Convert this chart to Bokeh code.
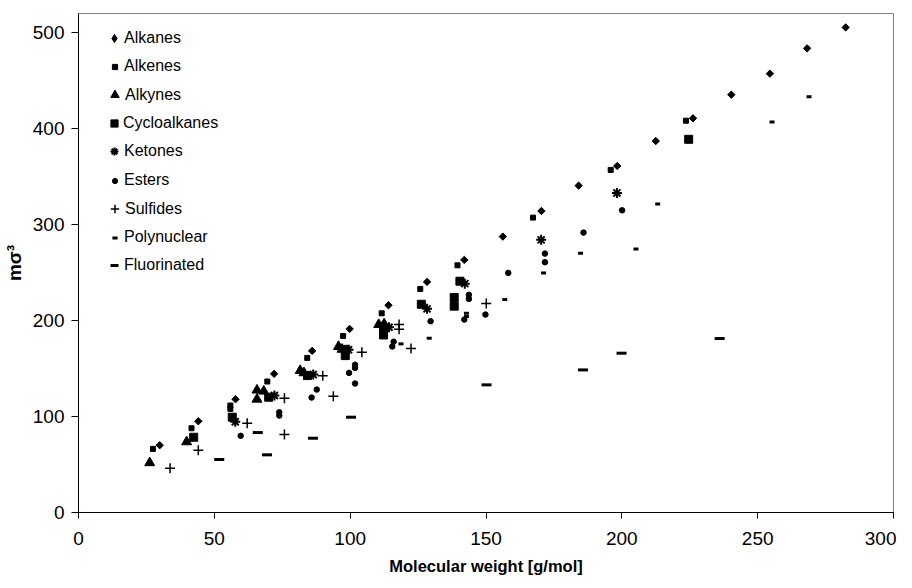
import math
from bokeh.plotting import figure
from bokeh.models import Legend, LegendItem, Range1d, FixedTicker
from bokeh.embed import file_html
from bokeh.resources import INLINE

# ---------------- data ----------------
alkanes_x = [29.9, 44.1, 57.8, 72.0, 86.0, 99.8, 114.1, 128.3, 142.0, 156.2, 170.4, 184.1,
             198.3, 212.5, 226.2, 240.3, 254.5, 268.2, 282.4]
alkanes_y = [70.1, 95.1, 118.0, 144.5, 168.4, 191.3, 216.0, 240.3, 263.2, 287.5, 314.2, 340.6,
             361.1, 387.1, 410.8, 435.4, 457.3, 483.7, 505.5]

alkenes_x = [27.4, 41.6, 55.9, 55.9, 69.5, 84.2, 97.4, 111.6, 125.8, 139.5, 167.3, 195.9, 223.6]
alkenes_y = [66.3, 87.8, 111.5, 108.0, 136.5, 161.1, 184.0, 207.6, 233.0, 257.6, 307.3, 357.0, 408.3]

alkynes_x = [26.2, 39.8, 65.7, 68.2, 65.7, 81.6, 83.0, 95.7, 97.0, 110.5, 112.5]
alkynes_y = [51.8, 73.6, 127.5, 126.4, 118.0, 147.9, 145.5, 172.9, 170.0, 195.8, 196.5]

cyclo_x = [42.4, 56.6, 70.0, 84.3, 98.2, 98.2, 112.3, 112.3, 126.2, 140.4, 138.3, 138.3, 224.6]
cyclo_y = [78.4, 99.3, 120.1, 142.7, 170.0, 163.5, 192.0, 185.0, 217.0, 241.0, 224.0, 215.0, 388.9]

ketones_x = [57.7, 72.1, 86.4, 99.4, 114.3, 128.3, 142.2, 170.3, 198.2]
ketones_y = [94.5, 121.9, 143.7, 169.5, 193.0, 212.2, 238.5, 284.1, 333.0]

esters_x = [59.7, 73.9, 73.9, 87.7, 85.8, 101.8, 101.8, 99.6, 101.8, 116.0, 115.5, 129.6,
            143.7, 143.7, 142.0, 149.8, 158.2, 171.7, 171.7, 185.9, 200.1]
esters_y = [79.9, 104.5, 101.0, 128.1, 119.8, 154.0, 150.7, 145.5, 134.4, 178.0, 173.0, 199.3,
            226.8, 222.6, 201.0, 206.3, 249.7, 269.8, 260.8, 291.7, 314.9]

sulfides_x = [33.7, 44.1, 62.1, 75.8, 75.8, 89.9, 93.8, 104.3, 118.0, 118.0, 122.4, 150.1]
sulfides_y = [46.2, 64.9, 93.0, 119.1, 81.3, 142.4, 121.2, 167.0, 196.0, 191.0, 170.8, 217.7]

poly_x = [118.7, 129.1, 142.8, 142.8, 156.9, 171.2, 184.8, 205.2, 213.2, 255.3, 268.9]
poly_y = [175.7, 181.6, 207.6, 204.2, 221.9, 249.6, 270.1, 274.7, 321.6, 407.0, 433.3]

fluor_x = [51.8, 66.0, 69.4, 86.3, 100.3, 150.2, 185.7, 199.9, 236.0]
fluor_y = [55.2, 83.3, 60.1, 77.4, 99.3, 133.0, 148.6, 166.0, 181.3]

series_names = ["Alkanes", "Alkenes", "Alkynes", "Cycloalkanes", "Ketones", "Esters",
                "Sulfides", "Polynuclear", "Fluorinated"]
x_ticks = [0, 50, 100, 150, 200, 250, 300]
y_ticks = [0, 100, 200, 300, 400, 500]

FONT = "Liberation Sans"
FRAME_W, FRAME_H = 817, 499

p = figure(width=896, height=580, output_backend="svg", toolbar_location=None,
           x_range=Range1d(0, 300), y_range=Range1d(0, 520),
           min_border_left=76, min_border_right=3, min_border_top=13, min_border_bottom=68)
p.background_fill_color = "white"
p.border_fill_color = "white"
p.outline_line_color = "#808080"
p.outline_line_width = 1
p.xgrid.visible = False
p.ygrid.visible = False

K = "black"
r_alk = p.scatter(alkanes_x, alkanes_y, marker="square", size=5.2, angle=math.pi / 4,
                  fill_color=K, line_color=K)
r_ene = p.scatter(alkenes_x, alkenes_y, marker="square", size=5, fill_color=K, line_color=K)
r_yne = p.scatter(alkynes_x, alkynes_y, marker="triangle", size=10, fill_color=K, line_color=K)
r_cyc = p.scatter(cyclo_x, cyclo_y, marker="square", size=8, fill_color=K, line_color=K)
r_ket = p.scatter(ketones_x, ketones_y, marker="asterisk", size=10, line_color=K, line_width=2)
r_est = p.scatter(esters_x, esters_y, marker="circle", size=5.5, fill_color=K, line_color=K)
r_sul = p.scatter(sulfides_x, sulfides_y, marker="cross", size=10, line_color=K, line_width=1.5)
r_pol = p.scatter(poly_x, poly_y, marker="dash", size=5, line_color=K, line_width=3)
r_flu = p.scatter(fluor_x, fluor_y, marker="dash", size=10, line_color=K, line_width=3)
# hidden twin of the alkanes series, used only for its legend key
# (legend keys ignore marker rotation, so the key uses the diamond marker)
r_alk_key = p.scatter(alkanes_x, alkanes_y, marker="diamond", size=8, fill_color=K,
                      line_color=K, visible=False)

legend_renderers = [r_alk_key, r_ene, r_yne, r_cyc, r_ket, r_est, r_sul, r_pol, r_flu]
# legend glyph box sizes (marker drawn at 0.4 x box)
key_box = [20, 13, 21, 18, 20, 13, 21, 13, 20]

# legend layout (screen px relative to plot frame)
first_center_from_top = 24.5
row_step = 28.45
key_cx = 36.3
text_x = 45.5
LABEL_H = 20
for i, (name, r, g) in enumerate(zip(series_names, legend_renderers, key_box)):
    cy = FRAME_H - (first_center_from_top + i * row_step)
    h = max(g, LABEL_H)
    lg = Legend(items=[LegendItem(label=name, renderers=[r])],
                location=(round(key_cx - g / 2), round(cy - h / 2)),
                padding=0, margin=0, spacing=0,
                glyph_width=g, glyph_height=g, label_height=LABEL_H,
                label_standoff=max(0, round(text_x - key_cx - g / 2)),
                border_line_color=None, background_fill_alpha=0,
                inactive_fill_alpha=0, click_policy="none",
                label_text_font=FONT, label_text_font_size="16px",
                label_text_color="black")
    p.add_layout(lg, "center")

for ax in (p.xaxis[0], p.yaxis[0]):
    ax.axis_line_color = "black"
    ax.axis_line_width = 1
    ax.major_tick_line_color = "black"
    ax.major_tick_in = 0
    ax.minor_tick_line_color = None
    ax.major_label_text_font = FONT
    ax.major_label_text_font_size = "19px"
    ax.major_label_text_color = "black"
    ax.axis_label_text_font = FONT
    ax.axis_label_text_font_style = "bold"
    ax.axis_label_text_color = "black"

p.xaxis[0].ticker = FixedTicker(ticks=x_ticks)
p.yaxis[0].ticker = FixedTicker(ticks=y_ticks)
p.xaxis[0].axis_label = "Molecular weight [g/mol]"
p.yaxis[0].axis_label = "mσ³"
p.xaxis[0].axis_label_text_font_size = "16.5px"
p.yaxis[0].axis_label_text_font_size = "19px"
p.xaxis[0].major_tick_out = 6
p.yaxis[0].major_tick_out = 7
p.xaxis[0].major_label_standoff = 13
p.xaxis[0].axis_label_standoff = 9
p.yaxis[0].major_label_standoff = 7
p.yaxis[0].axis_label_standoff = 5

open("out.html", "w").write(file_html(p, INLINE))
